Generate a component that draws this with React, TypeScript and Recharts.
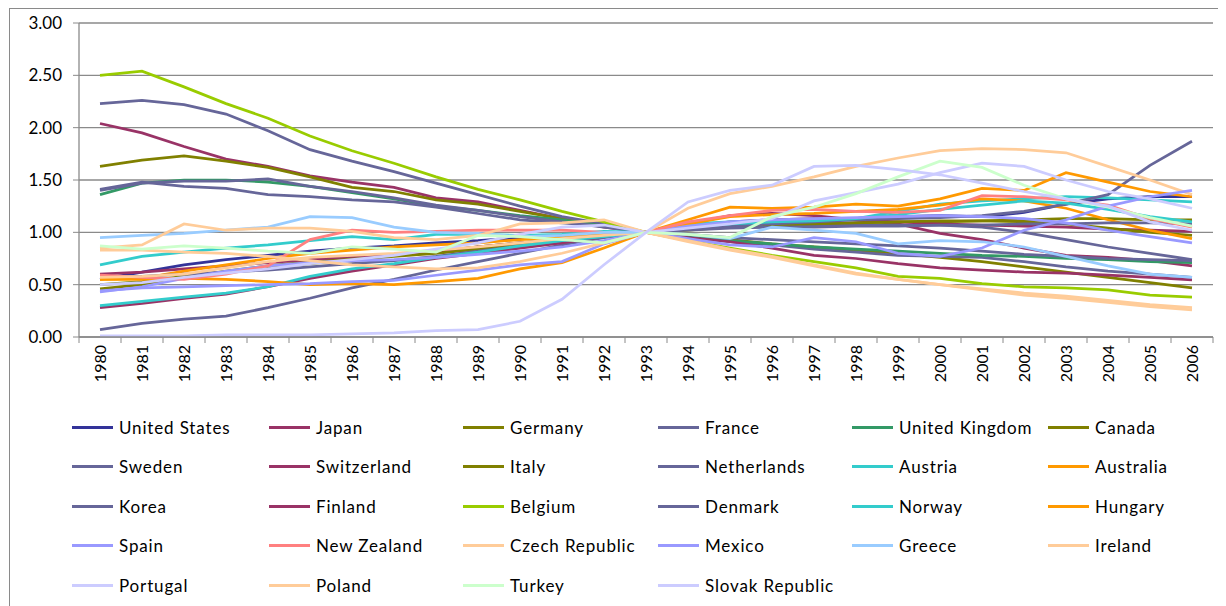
import React from 'react';
import { LineChart, Line, XAxis, YAxis, CartesianGrid } from 'recharts';

const years = ['1980', '1981', '1982', '1983', '1984', '1985', '1986', '1987', '1988', '1989', '1990', '1991', '1992', '1993', '1994', '1995', '1996', '1997', '1998', '1999', '2000', '2001', '2002', '2003', '2004', '2005', '2006'];

const yTicks = [0, 0.5, 1, 1.5, 2, 2.5, 3];

const unitedStates = [0.55, 0.62, 0.69, 0.74, 0.78, 0.82, 0.85, 0.87, 0.90, 0.92, 0.95, 0.97, 0.99, 1.00, 1.04, 1.07, 1.09, 1.11, 1.13, 1.15, 1.16, 1.15, 1.19, 1.27, 1.32, 1.34, 1.34];
const japan = [2.04, 1.95, 1.82, 1.70, 1.63, 1.54, 1.48, 1.43, 1.33, 1.29, 1.21, 1.13, 1.05, 1.00, 1.08, 1.16, 1.18, 1.16, 1.12, 1.08, 0.99, 0.93, 0.85, 0.78, 0.76, 0.73, 0.68];
const germany = [1.63, 1.69, 1.73, 1.68, 1.62, 1.53, 1.43, 1.39, 1.31, 1.27, 1.20, 1.13, 1.08, 1.00, 0.97, 0.93, 0.89, 0.86, 0.83, 0.80, 0.76, 0.72, 0.67, 0.62, 0.57, 0.52, 0.47];
const france = [2.23, 2.26, 2.22, 2.13, 1.97, 1.79, 1.68, 1.58, 1.47, 1.36, 1.25, 1.15, 1.08, 1.00, 0.96, 0.91, 0.88, 0.84, 0.81, 0.78, 0.77, 0.76, 0.72, 0.67, 0.63, 0.60, 0.57];
const unitedKingdom = [1.36, 1.47, 1.50, 1.50, 1.48, 1.44, 1.38, 1.32, 1.25, 1.21, 1.16, 1.12, 1.06, 1.00, 0.96, 0.92, 0.89, 0.86, 0.84, 0.82, 0.80, 0.78, 0.77, 0.75, 0.74, 0.72, 0.71];
const canada = [0.46, 0.50, 0.57, 0.63, 0.68, 0.72, 0.76, 0.78, 0.81, 0.86, 0.90, 0.94, 0.97, 1.00, 1.05, 1.06, 1.07, 1.08, 1.09, 1.10, 1.10, 1.11, 1.12, 1.13, 1.13, 1.12, 1.12];
const sweden = [1.41, 1.48, 1.44, 1.42, 1.36, 1.34, 1.31, 1.29, 1.24, 1.18, 1.12, 1.09, 1.06, 1.00, 1.03, 1.05, 1.06, 1.07, 1.07, 1.07, 1.07, 1.05, 1.00, 0.93, 0.86, 0.80, 0.74];
const switzerland = [0.60, 0.62, 0.65, 0.68, 0.71, 0.74, 0.77, 0.79, 0.82, 0.86, 0.90, 0.93, 0.97, 1.00, 1.05, 1.10, 1.12, 1.13, 1.12, 1.10, 1.08, 1.07, 1.06, 1.05, 1.03, 1.02, 1.01];
const italy = [0.50, 0.53, 0.58, 0.62, 0.66, 0.70, 0.74, 0.77, 0.80, 0.84, 0.88, 0.93, 0.97, 1.00, 1.02, 1.05, 1.07, 1.08, 1.09, 1.10, 1.11, 1.11, 1.10, 1.08, 1.04, 1.00, 0.97];
const netherlands = [1.40, 1.47, 1.49, 1.49, 1.51, 1.44, 1.39, 1.33, 1.26, 1.21, 1.15, 1.10, 1.05, 1.00, 0.98, 0.95, 0.93, 0.91, 0.89, 0.87, 0.85, 0.82, 0.79, 0.77, 0.75, 0.74, 0.73];
const austria = [0.69, 0.77, 0.81, 0.85, 0.88, 0.92, 0.96, 0.93, 0.98, 0.98, 0.97, 0.98, 1.01, 1.00, 1.08, 1.10, 1.11, 1.12, 1.13, 1.20, 1.27, 1.30, 1.32, 1.34, 1.33, 1.31, 1.29];
const australia = [0.55, 0.56, 0.63, 0.69, 0.75, 0.80, 0.83, 0.86, 0.88, 0.90, 0.93, 0.95, 0.98, 1.00, 1.08, 1.15, 1.17, 1.18, 1.20, 1.22, 1.26, 1.32, 1.30, 1.23, 1.12, 1.02, 0.94];
const korea = [0.07, 0.13, 0.17, 0.20, 0.28, 0.37, 0.47, 0.55, 0.64, 0.72, 0.80, 0.88, 0.95, 1.00, 1.03, 1.06, 1.08, 1.10, 1.12, 1.13, 1.14, 1.16, 1.20, 1.27, 1.36, 1.64, 1.87];
const finland = [0.28, 0.32, 0.37, 0.41, 0.48, 0.56, 0.63, 0.69, 0.75, 0.80, 0.85, 0.90, 0.96, 1.00, 0.95, 0.91, 0.85, 0.78, 0.75, 0.70, 0.66, 0.64, 0.62, 0.61, 0.59, 0.57, 0.545];
const belgium = [2.50, 2.54, 2.39, 2.23, 2.09, 1.92, 1.78, 1.66, 1.53, 1.41, 1.31, 1.20, 1.10, 1.00, 0.92, 0.85, 0.78, 0.72, 0.66, 0.58, 0.56, 0.51, 0.48, 0.47, 0.45, 0.40, 0.38];
const denmark = [0.57, 0.58, 0.60, 0.62, 0.64, 0.67, 0.70, 0.73, 0.77, 0.82, 0.87, 0.92, 0.96, 1.00, 1.02, 1.04, 1.05, 1.05, 1.06, 1.06, 1.07, 1.07, 1.08, 1.08, 1.09, 1.09, 1.08];
const norway = [0.30, 0.34, 0.38, 0.42, 0.48, 0.58, 0.65, 0.70, 0.76, 0.81, 0.87, 0.92, 0.96, 1.00, 1.05, 1.08, 1.10, 1.11, 1.13, 1.17, 1.22, 1.26, 1.30, 1.28, 1.22, 1.15, 1.10];
const hungary = [0.55, 0.55, 0.56, 0.55, 0.53, 0.50, 0.51, 0.50, 0.53, 0.56, 0.65, 0.71, 0.85, 1.00, 1.12, 1.24, 1.23, 1.24, 1.27, 1.25, 1.32, 1.42, 1.40, 1.57, 1.48, 1.39, 1.34];
const spain = [0.43, 0.48, 0.56, 0.63, 0.68, 0.71, 0.73, 0.74, 0.76, 0.79, 0.82, 0.86, 0.92, 1.00, 1.06, 1.10, 1.12, 1.13, 1.14, 1.15, 1.16, 1.15, 1.13, 1.09, 1.02, 0.96, 0.90];
const newZealand = [0.59, 0.57, 0.55, 0.60, 0.68, 0.93, 1.02, 1.00, 1.01, 1.02, 1.02, 1.02, 1.00, 1.00, 1.10, 1.16, 1.21, 1.22, 1.20, 1.19, 1.21, 1.35, 1.34, 1.31, 1.26, 1.13, 1.05];
const czechRepublic = [0.57, 0.58, 0.60, 0.66, 0.72, 0.76, 0.78, 0.80, 0.83, 0.86, 0.90, 0.94, 0.97, 1.00, 1.23, 1.37, 1.44, 1.53, 1.63, 1.71, 1.78, 1.80, 1.79, 1.76, 1.63, 1.50, 1.36];
const mexico = [0.44, 0.47, 0.48, 0.49, 0.50, 0.51, 0.53, 0.54, 0.59, 0.64, 0.69, 0.72, 0.89, 1.00, 0.94, 0.88, 0.86, 0.95, 0.91, 0.80, 0.77, 0.85, 1.02, 1.12, 1.25, 1.34, 1.40];
const greece = [0.95, 0.97, 0.99, 1.02, 1.05, 1.15, 1.14, 1.05, 1.00, 0.99, 0.96, 0.97, 1.00, 1.00, 0.98, 0.94, 1.05, 1.02, 0.99, 0.89, 0.92, 0.91, 0.86, 0.77, 0.68, 0.60, 0.57];
const ireland = [0.85, 0.88, 1.08, 1.02, 1.04, 1.04, 1.01, 0.95, 0.93, 0.97, 1.08, 1.09, 1.12, 1.00, 0.91, 0.83, 0.76, 0.68, 0.60, 0.55, 0.50, 0.46, 0.42, 0.39, 0.35, 0.31, 0.28];
const portugal = [0.50, 0.52, 0.57, 0.61, 0.65, 0.70, 0.74, 0.78, 0.84, 0.90, 0.98, 1.05, 1.07, 1.00, 1.04, 1.08, 1.13, 1.30, 1.38, 1.46, 1.57, 1.66, 1.63, 1.50, 1.39, 1.32, 1.23];
const poland = [0.83, 0.83, 0.81, 0.80, 0.77, 0.73, 0.69, 0.67, 0.65, 0.66, 0.72, 0.80, 0.90, 1.00, 0.92, 0.84, 0.77, 0.69, 0.61, 0.55, 0.50, 0.45, 0.40, 0.37, 0.33, 0.29, 0.26];
const turkey = [0.87, 0.84, 0.87, 0.85, 0.82, 0.80, 0.86, 0.84, 0.81, 0.97, 0.96, 0.93, 0.90, 1.00, 0.98, 0.95, 1.15, 1.24, 1.37, 1.53, 1.68, 1.62, 1.45, 1.32, 1.24, 1.14, 1.06];
const slovakRepublic = [0.01, 0.01, 0.01, 0.02, 0.02, 0.02, 0.03, 0.04, 0.06, 0.07, 0.15, 0.36, 0.69, 1.00, 1.29, 1.40, 1.45, 1.63, 1.64, 1.60, 1.55, 1.47, 1.39, 1.32, 1.25, 1.10, 1.02];

const countries = ['United States', 'Japan', 'Germany', 'France', 'United Kingdom', 'Canada', 'Sweden', 'Switzerland', 'Italy', 'Netherlands', 'Austria', 'Australia', 'Korea', 'Finland', 'Belgium', 'Denmark', 'Norway', 'Hungary', 'Spain', 'New Zealand', 'Czech Republic', 'Mexico', 'Greece', 'Ireland', 'Portugal', 'Poland', 'Turkey', 'Slovak Republic'];
const colors = ['#333399', '#993366', '#808000', '#666699', '#339966', '#808000', '#666699', '#993366', '#808000', '#666699', '#33CCCC', '#FF9900', '#666699', '#993366', '#99CC00', '#666699', '#33CCCC', '#FF9900', '#9999FF', '#FF8080', '#FFCC99', '#9999FF', '#99CCFF', '#FFCC99', '#CCCCFF', '#FFCC99', '#CCFFCC', '#CCCCFF'];
const seriesValues = [unitedStates, japan, germany, france, unitedKingdom, canada, sweden, switzerland, italy, netherlands, austria, australia, korea, finland, belgium, denmark, norway, hungary, spain, newZealand, czechRepublic, mexico, greece, ireland, portugal, poland, turkey, slovakRepublic];

const data = years.map((year, i) => {
  const row: any = { year };
  countries.forEach((c, k) => { row[c] = seriesValues[k][i]; });
  return row;
});

const FONT = 'Lato, "Open Sans", sans-serif';
const GRID = '#8a8a8a';
const STEP = 42; // width of one year slot

// legend layout (6 columns, row-major like Excel)
const legendCols = [62, 259, 453, 648, 842, 1038];
const legendRows = [418, 457, 497, 536, 576];

const XTick = (props: any) => {
  const { x, y, payload, index } = props;
  const base = y - 8;
  return (
    <g>
      <line x1={x - STEP / 2} y1={base} x2={x - STEP / 2} y2={base + 6} stroke={GRID} />
      {index === years.length - 1 && <line x1={x + STEP / 2} y1={base} x2={x + STEP / 2} y2={base + 6} stroke={GRID} />}
      <text transform={`translate(${x + 6},${y}) rotate(-90)`} textAnchor="end" fontSize={16} fill="#000" fontFamily={FONT}>
        {payload.value}
      </text>
    </g>
  );
};

const App: React.FC = () => {
  return (
    <div style={{ position: 'relative', width: 1212, height: 600, border: `1px solid ${GRID}`, marginLeft: 1, background: '#fff', fontFamily: FONT }}>
      <LineChart width={1212} height={400} data={data} margin={{ top: 14, right: 9, bottom: 0, left: 0 }}>
        <CartesianGrid vertical={false} stroke={GRID} strokeWidth={1.3} />
        <XAxis
          dataKey="year"
          interval={0}
          padding={{ left: STEP / 2, right: STEP / 2 }}
          height={72}
          axisLine={{ stroke: GRID, strokeWidth: 1.3 }}
          tickLine={false}
          tickSize={6}
          tickMargin={2}
          tick={<XTick />}
        />
        <YAxis
          domain={[0, 3]}
          ticks={yTicks}
          width={69}
          tickFormatter={(v: number) => v.toFixed(2)}
          axisLine={{ stroke: GRID, strokeWidth: 1.3 }}
          tickLine={{ stroke: GRID }}
          tickSize={6}
          tickMargin={11}
          tick={{ fontSize: 17, fill: '#000', fontFamily: FONT }}
        />
        {countries.map((c, k) => (
          <Line
            key={c}
            type="linear"
            dataKey={c}
            stroke={colors[k]}
            strokeWidth={2.75}
            dot={false}
            isAnimationActive={false}
          />
        ))}
      </LineChart>
      {countries.map((c, k) => {
        const col = k % 6;
        const row = Math.floor(k / 6);
        return (
          <div
            key={c}
            style={{ position: 'absolute', left: legendCols[col], top: legendRows[row] - 10, height: 20, display: 'flex', alignItems: 'center', whiteSpace: 'nowrap' }}
          >
            <div style={{ width: 41, height: 3, background: colors[k], marginRight: 6 }} />
            <span style={{ fontSize: 17, letterSpacing: 0.85, color: '#000' }}>{c}</span>
          </div>
        );
      })}
    </div>
  );
};

export default App;
